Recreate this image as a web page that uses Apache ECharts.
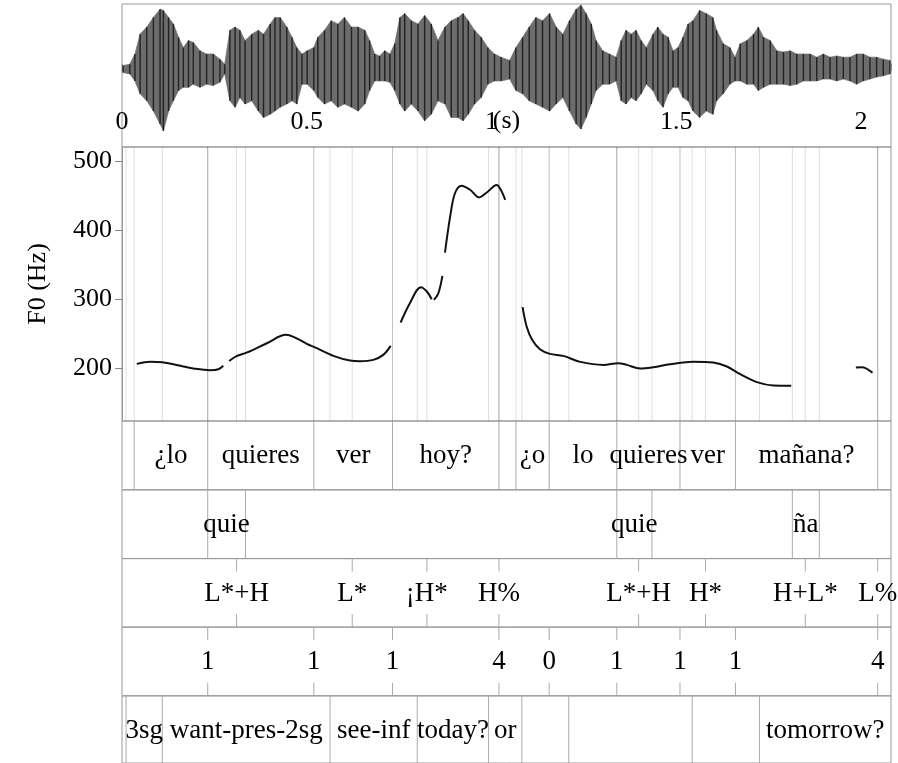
<!DOCTYPE html>
<html>
<head>
<meta charset="utf-8">
<script src="https://cdn.jsdelivr.net/npm/echarts@6/dist/echarts.min.js"></script>
<style>html,body{margin:0;padding:0;background:#fff}#c{width:898px;height:763px}</style>
</head>
<body>
<div id="c"></div>
<script>
// ---------- data ----------
const T_MAX = 2.081;
const timeLabelValues = [0, 0.5, 1, 1.5, 2];
const F0_MIN = 123, F0_MAX = 520;
const f0TickValues = [200, 300, 400, 500];

// waveform envelope (relative amplitude)
const waveTime = [0.003,0.021,0.035,0.049,0.067,0.085,0.103,0.112,0.126,0.139,0.153,0.166,0.180,0.193,0.211,0.229,0.247,0.265,0.278,0.292,0.306,0.319,0.333,0.351,0.369,0.383,0.401,0.414,0.428,0.446,0.460,0.473,0.487,0.501,0.519,
0.530,0.548,0.566,0.584,0.602,0.621,0.639,0.657,0.670,0.684,0.697,0.711,0.725,0.738,0.752,0.765,0.783,0.801,0.819,0.837,0.855,0.874,0.891,0.909,0.923,0.937,0.954,0.972,0.990,1.008,1.026,1.049,
1.066,1.084,1.102,1.120,1.138,1.157,1.175,1.193,1.211,1.229,1.242,1.256,1.270,1.283,1.301,1.319,1.337,1.351,1.364,1.378,1.391,1.405,1.419,1.437,1.450,1.464,1.478,1.491,1.505,1.518,1.532,1.545,1.563,1.581,1.599,
1.609,1.627,1.645,1.659,1.673,1.691,1.709,1.722,1.736,1.754,1.772,1.790,1.808,1.826,1.844,1.862,1.880,1.898,1.916,1.934,1.952,1.970,1.988,2.006,2.024,2.042,2.060,2.078];
const waveUpper = [0.08,0.10,0.26,0.57,0.68,0.83,0.96,0.94,0.83,0.73,0.52,0.36,0.47,0.44,0.31,0.26,0.26,0.18,0.10,0.63,0.68,0.63,0.47,0.57,0.63,0.57,0.73,0.83,0.83,0.68,0.52,0.36,0.26,0.31,0.36,
0.52,0.63,0.78,0.73,0.83,0.68,0.68,0.63,0.47,0.26,0.23,0.31,0.26,0.42,0.83,0.89,0.78,0.73,0.86,0.73,0.47,0.68,0.78,0.83,0.89,0.78,0.63,0.52,0.36,0.26,0.21,0.16,
0.36,0.52,0.68,0.83,0.78,0.89,0.68,0.57,0.78,0.96,1.02,0.89,0.73,0.47,0.31,0.26,0.21,0.47,0.63,0.57,0.63,0.47,0.36,0.57,0.68,0.57,0.52,0.31,0.36,0.52,0.73,0.78,0.94,0.89,0.83,
0.63,0.42,0.36,0.21,0.42,0.47,0.57,0.68,0.52,0.47,0.31,0.29,0.31,0.26,0.26,0.26,0.21,0.26,0.21,0.23,0.21,0.21,0.26,0.26,0.21,0.21,0.18,0.16];
const waveLower = [-0.03,-0.05,-0.16,-0.36,-0.47,-0.63,-0.83,-0.94,-0.63,-0.47,-0.31,-0.26,-0.26,-0.21,-0.26,-0.21,-0.23,-0.18,-0.05,-0.47,-0.57,-0.42,-0.52,-0.47,-0.63,-0.73,-0.68,-0.63,-0.57,-0.52,-0.47,-0.52,-0.21,-0.21,-0.31,
-0.42,-0.52,-0.47,-0.57,-0.52,-0.57,-0.63,-0.52,-0.31,-0.16,-0.16,-0.16,-0.18,-0.31,-0.52,-0.63,-0.52,-0.63,-0.78,-0.68,-0.47,-0.52,-0.73,-0.73,-0.78,-0.68,-0.52,-0.42,-0.21,-0.16,-0.16,-0.13,
-0.31,-0.36,-0.47,-0.52,-0.57,-0.63,-0.52,-0.42,-0.63,-0.83,-0.91,-0.73,-0.52,-0.31,-0.21,-0.21,-0.16,-0.47,-0.52,-0.42,-0.47,-0.36,-0.21,-0.31,-0.47,-0.57,-0.36,-0.26,-0.26,-0.42,-0.47,-0.63,-0.73,-0.63,-0.68,
-0.47,-0.36,-0.21,-0.16,-0.16,-0.21,-0.21,-0.31,-0.26,-0.21,-0.21,-0.21,-0.23,-0.21,-0.16,-0.16,-0.16,-0.13,-0.13,-0.16,-0.13,-0.16,-0.21,-0.16,-0.13,-0.10,-0.08,-0.05];

// F0 contour (Hz); null = unvoiced gap
const f0Time = [0.040,0.076,0.109,0.166,0.193,0.238,0.261,0.274, null,
0.290,0.310,0.337,0.392,0.444,0.464,0.500,0.527,0.572,0.617,0.644,0.680,0.707,0.727, null,
0.754,0.779,0.809,0.825,0.838, null,
0.844,0.856,0.867, null,
0.874,0.888,0.901,0.919,0.942,0.966,0.987,1.014,1.025,1.037, null,
1.084,1.095,1.109,1.131,1.158,1.194,1.240,1.303,1.343,1.366,1.402,1.438,1.483,1.546,1.600,1.637,1.673,1.718,1.763,1.811, null,
1.986,2.002,2.031];
const f0Hz = [205.8,209,208,202,199,196.6,198,203, null,
210,217,222,235.7,247.8,245,234.8,228.5,217.4,210.6,209.7,211.6,218.8,231.9, null,
265.7,293.7,316.9,310.6,299.5, null,
298.6,308,333.3, null,
367,419,453,464,458,447,454,465,458,443.5, null,
288,260,241.6,227,220.3,217.4,208.7,204.3,206.8,204.3,199,201,205.3,209,207.7,202,190.8,179.3,174.4,174, null,
200.5,201,193];

// tiers
const wordTimes  = [0, 0.033, 0.232, 0.519, 0.732, 1.020, 1.066, 1.156, 1.339, 1.510, 1.660, 2.045, 2.081];
const wordLabels = ['', '¿lo', 'quieres', 'ver', 'hoy?', '', '¿o', 'lo', 'quieres', 'ver', 'mañana?', ''];
const sylTimes   = [0, 0.232, 0.334, 1.339, 1.434, 1.814, 1.887, 2.081];
const sylLabels  = ['', 'quie', '', 'quie', '', 'ña', ''];
const toneTimes  = [0.310, 0.623, 0.825, 1.020, 1.398, 1.579, 1.849, 2.045];
const toneLabels = ['L*+H', 'L*', '¡H*', 'H%', 'L*+H', 'H*', 'H+L*', 'L%'];
const breakTimes = [0.232, 0.519, 0.732, 1.020, 1.156, 1.339, 1.510, 1.660, 2.045];
const breakLabels= ['1', '1', '1', '4', '0', '1', '1', '1', '4'];
const glossTimes = [0, 0.011, 0.109, 0.563, 0.799, 0.992, 1.082, 1.209, 1.543, 1.725, 2.081];
const glossLabels= ['', '3sg', 'want-pres-2sg', 'see-inf', 'today?', 'or', '', '', '', 'tomorrow?'];

// ---------- layout / style ----------
const FONT = '"Liberation Serif","Times New Roman",serif';
const LEFT = 122, WIDTH = 769;
const tierTops = [421, 490, 558.5, 627, 696];
const TIER_H = 68.7;
const TICK_FRAC = 13 / TIER_H;
const TIER_FONT = '27px ' + FONT;

const tierDefs = [
  {type: 'interval', times: wordTimes, labels: wordLabels},
  {type: 'interval', times: sylTimes, labels: sylLabels},
  {type: 'point', times: toneTimes, labels: toneLabels},
  {type: 'point', times: breakTimes, labels: breakLabels},
  {type: 'interval', times: glossTimes, labels: glossLabels}
];

const grids = [
  {left: LEFT, top: 4, width: WIDTH, height: 143, show: true, borderColor: '#999', borderWidth: 1},
  {left: LEFT, top: 147, width: WIDTH, height: 274, show: true, borderColor: '#999', borderWidth: 1}
].concat(tierTops.map(t => ({left: LEFT, top: t, width: WIDTH, height: TIER_H, show: true, borderColor: '#999', borderWidth: 1})));

const xAxes = [{
  gridIndex: 0, type: 'value', min: 0, max: T_MAX, interval: 0.1, position: 'bottom',
  axisLine: {show: true, lineStyle: {color: '#999'}},
  axisTick: {show: true, inside: true, length: 7, lineStyle: {color: '#888'}},
  axisLabel: {inside: true, margin: 12, fontSize: 26, fontFamily: FONT, color: '#000',
    customValues: timeLabelValues, formatter: v => String(v)},
  splitLine: {show: false},
  name: '(s)', nameLocation: 'middle', nameGap: -26, nameMoveOverlap: false,
  nameTextStyle: {fontSize: 26, fontFamily: FONT, color: '#000', verticalAlign: 'middle'}
}];
for (let g = 1; g < grids.length; g++) {
  xAxes.push({gridIndex: g, type: 'value', min: 0, max: T_MAX, show: false});
}
const yAxes = [
  {gridIndex: 0, type: 'value', min: -1.19, max: 1.04, show: false},
  {gridIndex: 1, type: 'value', min: F0_MIN, max: F0_MAX,
    axisLine: {show: true, lineStyle: {color: '#999'}},
    axisTick: {show: true, inside: false, length: 7, customValues: f0TickValues, lineStyle: {color: '#888'}},
    axisLabel: {margin: 10, fontSize: 26, fontFamily: FONT, color: '#000', customValues: f0TickValues},
    splitLine: {show: false},
    name: 'F0 (Hz)', nameLocation: 'middle', nameGap: 71,
    nameTextStyle: {fontSize: 26, fontFamily: FONT, color: '#000'}}
];
for (let g = 2; g < grids.length; g++) {
  yAxes.push({gridIndex: g, type: 'value', min: 0, max: 1, show: false});
}

const series = [];

// waveform envelope fill
series.push({
  type: 'custom', xAxisIndex: 0, yAxisIndex: 0, silent: true, z: 2,
  data: [[0, 0]],
  renderItem: (params, api) => {
    const up = waveTime.map((t, i) => api.coord([t, waveUpper[i]]));
    const lo = waveTime.map((t, i) => api.coord([t, waveLower[i]])).reverse();
    return {type: 'polygon', shape: {points: up.concat(lo)},
      style: {fill: '#6c6c6c', stroke: '#777', lineWidth: 0.8}};
  }
});
// waveform strokes at each sample
series.push({
  type: 'custom', xAxisIndex: 0, yAxisIndex: 0, silent: true, z: 3,
  data: waveTime.map((t, i) => [t, waveUpper[i], waveLower[i]]),
  encode: {x: 0, y: [1, 2]},
  renderItem: (params, api) => {
    const a = api.coord([api.value(0), api.value(1)]);
    const b = api.coord([api.value(0), api.value(2)]);
    return {type: 'line', shape: {x1: a[0], y1: a[1], x2: b[0], y2: b[1]},
      style: {stroke: '#222', lineWidth: 1.4}};
  }
});

// boundary lines through the F0 panel (one per tier boundary, overlaps darken)
const f0Guides = [];
tierDefs.forEach(td => {
  const ts = td.type === 'interval' ? td.times.slice(1, -1) : td.times;
  ts.forEach(t => f0Guides.push([t]));
});
series.push({
  type: 'custom', xAxisIndex: 1, yAxisIndex: 1, silent: true, z: 2,
  data: f0Guides, encode: {x: 0},
  renderItem: (params, api) => {
    const a = api.coord([api.value(0), F0_MIN]);
    const b = api.coord([api.value(0), F0_MAX]);
    return {type: 'line', shape: {x1: a[0], y1: a[1], x2: b[0], y2: b[1]},
      style: {stroke: 'rgba(0,0,0,0.13)', lineWidth: 1}};
  }
});

// F0 line
series.push({
  type: 'line', xAxisIndex: 1, yAxisIndex: 1, z: 5,
  data: f0Time.map((t, i) => (t === null ? ['-', '-'] : [t, f0Hz[i]])),
  showSymbol: false, smooth: 0.35, connectNulls: false,
  lineStyle: {color: '#111', width: 2}
});

// tiers
tierDefs.forEach((td, k) => {
  const gi = k + 2;
  let marks;
  if (td.type === 'interval') {
    marks = td.times.slice(1, -1).map(t => [t]);
    series.push({
      type: 'custom', xAxisIndex: gi, yAxisIndex: gi, silent: true, z: 3,
      data: marks, encode: {x: 0},
      renderItem: (params, api) => {
        const a = api.coord([api.value(0), 0]);
        const b = api.coord([api.value(0), 1]);
        return {type: 'line', shape: {x1: a[0], y1: a[1], x2: b[0], y2: b[1]},
          style: {stroke: '#aaa', lineWidth: 1}};
      }
    });
    const txt = [];
    for (let i = 0; i < td.labels.length; i++) {
      if (td.labels[i]) txt.push([(td.times[i] + td.times[i + 1]) / 2, td.labels[i]]);
    }
    series.push({
      type: 'custom', xAxisIndex: gi, yAxisIndex: gi, silent: true, z: 4,
      data: txt, encode: {x: 0},
      renderItem: (params, api) => {
        const p = api.coord([api.value(0), 0.5]);
        return {type: 'text', style: {text: txt[params.dataIndex][1], x: p[0], y: p[1] + 1,
          align: 'center', verticalAlign: 'middle', fill: '#000', font: TIER_FONT}};
      }
    });
  } else {
    marks = td.times.map((t, i) => [t, td.labels[i]]);
    series.push({
      type: 'custom', xAxisIndex: gi, yAxisIndex: gi, silent: true, z: 3,
      data: marks.map(m => [m[0]]), encode: {x: 0},
      renderItem: (params, api) => {
        const t = api.value(0);
        const a1 = api.coord([t, 1]), b1 = api.coord([t, 1 - TICK_FRAC]);
        const a2 = api.coord([t, 0]), b2 = api.coord([t, TICK_FRAC]);
        return {type: 'group', children: [
          {type: 'line', shape: {x1: a1[0], y1: a1[1], x2: b1[0], y2: b1[1]}, style: {stroke: '#aaa', lineWidth: 1}},
          {type: 'line', shape: {x1: a2[0], y1: a2[1], x2: b2[0], y2: b2[1]}, style: {stroke: '#aaa', lineWidth: 1}},
          {type: 'text', style: {text: marks[params.dataIndex][1], x: (a1[0] + a2[0]) / 2, y: (a1[1] + a2[1]) / 2 + 1,
            align: 'center', verticalAlign: 'middle', fill: '#000', font: TIER_FONT}}
        ]};
      }
    });
  }
});

const chart = echarts.init(document.getElementById('c'));
chart.setOption({
  animation: false,
  backgroundColor: '#fff',
  grid: grids,
  xAxis: xAxes,
  yAxis: yAxes,
  series: series
});
</script>
</body>
</html>
